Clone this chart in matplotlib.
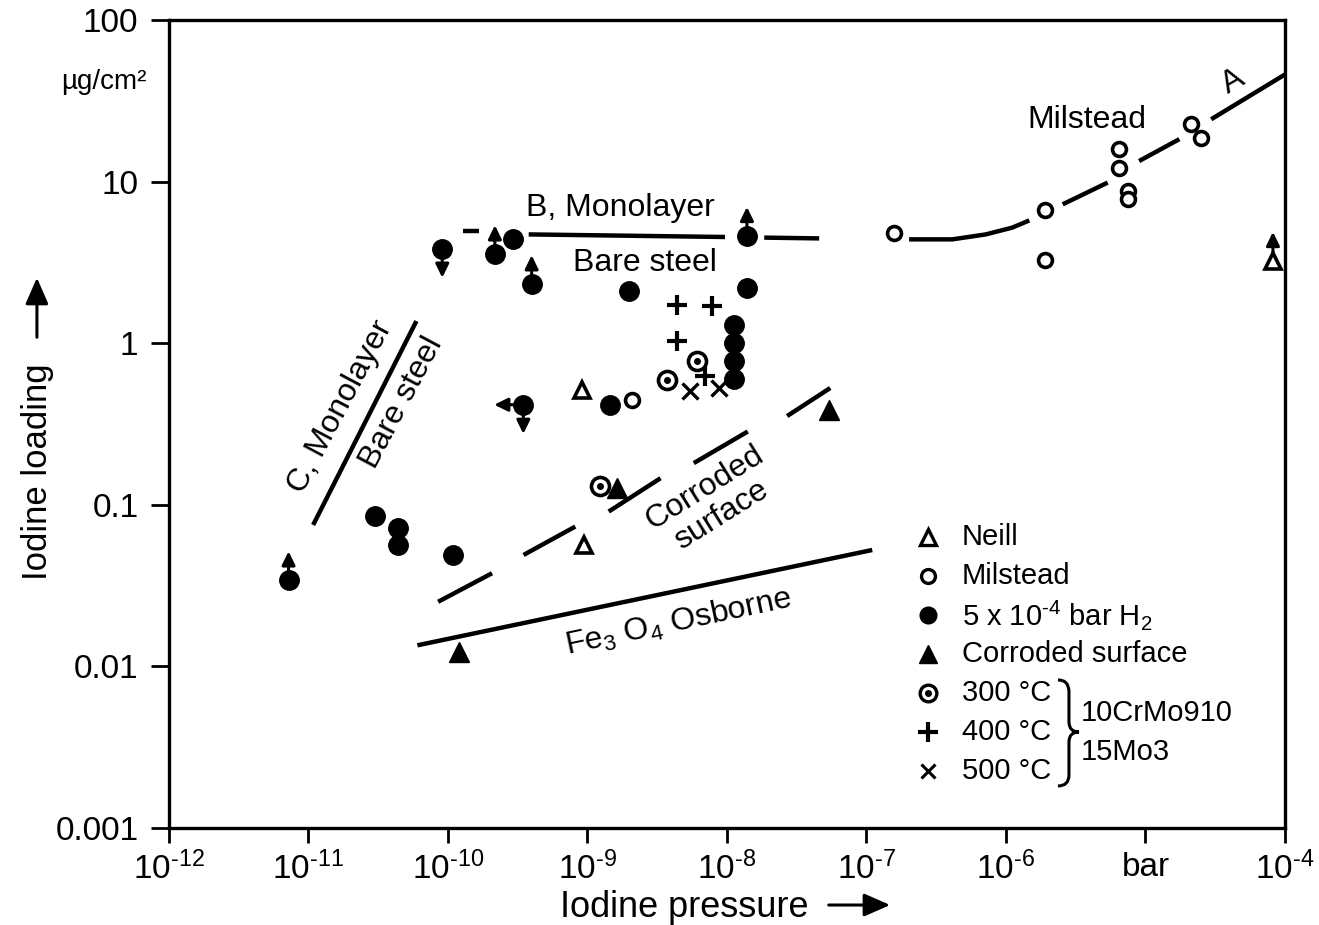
import numpy as np
import matplotlib
matplotlib.use('Agg')
import matplotlib.pyplot as plt
from matplotlib.path import Path
from matplotlib.patches import PathPatch, FancyArrowPatch

plt.rcParams['font.family'] = ['Liberation Sans', 'DejaVu Sans']
plt.rcParams['mathtext.fontset'] = 'custom'
plt.rcParams['mathtext.rm'] = 'Liberation Sans'
plt.rcParams['mathtext.it'] = 'Liberation Sans:italic'
plt.rcParams['mathtext.bf'] = 'Liberation Sans:bold'

# Iodine pressure (bar) and loading (ug/cm2) for each data set
h2_p = [7.2e-12, 3.0e-11, 4.4e-11, 4.4e-11, 1.08e-10, 9.1e-11, 2.17e-10, 2.94e-10,
        3.98e-10, 1.97e-9, 1.39e-8, 1.39e-8, 1.12e-8, 1.12e-8, 1.12e-8, 1.12e-8,
        1.45e-9, 3.47e-10]
h2_L = [0.034, 0.085, 0.072, 0.056, 0.049, 3.85, 3.54, 4.39,
        2.31, 2.10, 4.60, 2.20, 1.30, 1.00, 0.776, 0.601,
        0.416, 0.416]

milstead_p = [1.57e-7, 1.91e-6, 1.91e-6, 6.5e-6, 6.5e-6, 7.45e-6, 7.45e-6, 2.12e-5, 2.51e-5, 2.08e-9]
milstead_L = [4.83, 6.64, 3.25, 15.8, 12.2, 8.75, 7.76, 22.6, 18.7, 0.447]

neill_p = [9.1e-10, 9.4e-10, 8.2e-5]
neill_L = [0.515, 0.056, 3.22]

corr_p = [1.2e-10, 1.62e-9, 5.4e-8]
corr_L = [0.0123, 0.127, 0.385]

t300_p = [1.24e-9, 3.7e-9, 6.1e-9]
t300_L = [0.130, 0.594, 0.773]
t400_p = [4.38e-9, 7.8e-9, 4.38e-9, 6.95e-9]
t400_L = [1.73, 1.69, 1.03, 0.627]
t500_p = [5.45e-9, 8.7e-9]
t500_L = [0.504, 0.528]

# points that are only bounds: (pressure, loading, direction)
bounds = [(7.2e-12, 0.034, 'up'), (2.17e-10, 3.54, 'up'), (3.98e-10, 2.31, 'up'),
          (1.39e-8, 4.60, 'up'), (9.1e-11, 3.85, 'down'), (3.47e-10, 0.416, 'down'),
          (3.47e-10, 0.416, 'left'), (8.2e-5, 3.22, 'up')]

# curve A (Milstead), broken where the symbols sit
lineA = [([2.02e-7, 4.13e-7, 7.16e-7, 1.11e-6, 1.47e-6], [4.39, 4.39, 4.71, 5.19, 5.75]),
         ([2.55e-6, 5.36e-6], [7.23, 9.86]),
         ([9.0e-6, 1.75e-5], [13.4, 18.3]),
         ([2.96e-5, 1.0e-4], [24.3, 46.0])]
# B, monolayer on bare steel
lineB = [([1.29e-10, 1.68e-10], [4.97, 4.97]),
         ([3.79e-10, 9.68e-9], [4.71, 4.54]),
         ([1.85e-8, 4.58e-8], [4.50, 4.45])]
# C, monolayer on bare steel
lineC_p = [1.08e-11, 5.94e-11]
lineC_L = [0.075, 1.37]
# corroded surface (dashed)
lineCorr = [([8.5e-11, 2.07e-10], [0.0251, 0.0377]),
            ([3.48e-10, 8.18e-10], [0.0489, 0.0733]),
            ([1.42e-9, 3.34e-9], [0.0908, 0.146]),
            ([5.78e-9, 1.41e-8], [0.181, 0.284]),
            ([2.7e-8, 5.5e-8], [0.354, 0.528])]
# Fe3O4, Osborne
lineFe_p = [6.04e-11, 1.1e-7]
lineFe_L = [0.0135, 0.0525]

xticks = [1e-12, 1e-11, 1e-10, 1e-9, 1e-8, 1e-7, 1e-6, 1e-5, 1e-4]
xticklabels = ['$10^{\u201012}$', '$10^{\u201011}$', '$10^{\u201010}$', '$10^{\u20109}$',
               '$10^{\u20108}$', '$10^{\u20107}$', '$10^{\u20106}$', 'bar', '$10^{\u20104}$']
yticks = [1e-3, 1e-2, 1e-1, 1, 10, 100]
yticklabels = ['0.001', '0.01', '0.1', '1', '10', '100']

fig = plt.figure(figsize=(13.19, 9.25), dpi=100)
ax = fig.add_axes([0.1281, 0.1049, 0.8461, 0.8735])
ax.set_xscale('log')
ax.set_yscale('log')
ax.set_xlim(1e-12, 1e-4)
ax.set_ylim(1e-3, 100)

lw = 3.2
for p, L in lineA + lineB + lineCorr:
    ax.plot(p, L, 'k-', lw=lw, solid_capstyle='butt')
ax.plot(lineC_p, lineC_L, 'k-', lw=lw, solid_capstyle='butt')
ax.plot(lineFe_p, lineFe_L, 'k-', lw=lw, solid_capstyle='butt')

# Symbols
ax.plot(h2_p, h2_L, 'o', color='k', ms=14, ls='none')
ax.plot(milstead_p, milstead_L, 'o', mfc='white', mec='k', mew=2.6, ms=10, ls='none')
ax.plot(neill_p, neill_L, '^', mfc='white', mec='k', mew=2.6, ms=12, ls='none')
ax.plot(corr_p, corr_L, '^', color='k', ms=15, ls='none')
ax.plot(t300_p, t300_L, 'o', mfc='white', mec='k', mew=2.6, ms=13, ls='none')
ax.plot(t300_p, t300_L, 'o', color='k', ms=4, ls='none')
ax.plot(t400_p, t400_L, '+', color='k', mew=3, ms=15, ls='none')
ax.plot(t500_p, t500_L, 'x', color='k', mew=2.4, ms=11, ls='none')

# Arrows marking lower / upper bounds
offs = {'up': (0, 21), 'down': (0, -21), 'left': (-21, 0)}
for p, L, d in bounds:
    ax.annotate('', xy=(p, L), xytext=offs[d], textcoords='offset points',
                arrowprops=dict(arrowstyle='<|-,head_width=0.22,head_length=0.45',
                                color='k', lw=2.2, shrinkA=0, shrinkB=6,
                                mutation_scale=18))

# Line labels
fs = 23
ax.text(1.71e-9, 6.87, 'B, Monolayer', fontsize=fs, ha='center', va='center')
ax.text(2.58e-9, 3.13, 'Bare steel', fontsize=fs, ha='center', va='center')
ax.text(1.71e-11, 0.403, 'C, Monolayer', fontsize=fs, ha='center', va='center',
        rotation=62, rotation_mode='anchor')
ax.text(4.68e-11, 0.427, 'Bare steel', fontsize=fs, ha='center', va='center',
        rotation=62, rotation_mode='anchor')
ax.text(6.95e-9, 0.127, 'Corroded', fontsize=fs, ha='center', va='center',
        rotation=32, rotation_mode='anchor')
ax.text(9.2e-9, 0.0865, 'surface', fontsize=fs, ha='center', va='center',
        rotation=32, rotation_mode='anchor')
ax.text(4.46e-9, 0.0188, 'Fe$_3$ O$_4$ Osborne', fontsize=fs, ha='center', va='center',
        rotation=12, rotation_mode='anchor')
ax.text(3.81e-6, 24.0, 'Milstead', fontsize=fs, ha='center', va='center')
ax.text(4.24e-5, 41.3, 'A', fontsize=fs, ha='center', va='center',
        rotation=30, rotation_mode='anchor')


def px(x, y):
    # pixel position inside the frame -> axes fraction
    return ((x - 169) / 1116.0, (828 - y) / 808.0)


# Legend
legend_rows = [
    ('Neill', dict(marker='^', mfc='white', mec='k', mew=2.4, ms=11)),
    ('Milstead', dict(marker='o', mfc='white', mec='k', mew=2.4, ms=10)),
    ('5 x 10$^{\u20104}$ bar H$_2$', dict(marker='o', color='k', ms=12)),
    ('Corroded surface', dict(marker='^', color='k', ms=13)),
    ('300 °C', dict(marker='o', mfc='white', mec='k', mew=2.4, ms=12)),
    ('400 °C', dict(marker='+', color='k', mew=3, ms=14)),
    ('500 °C', dict(marker='x', color='k', mew=2.2, ms=10)),
]
lfs = 21
for i, (label, style) in enumerate(legend_rows):
    yrow = 537 + 39 * i
    ax.plot(*px(928, yrow), transform=ax.transAxes, ls='none', clip_on=False, **style)
    if label == '300 °C':
        ax.plot(*px(928, yrow), 'o', color='k', ms=4, transform=ax.transAxes)
    ax.text(*px(962, yrow), label, fontsize=lfs, ha='left', va='center',
            transform=ax.transAxes)

# Brace grouping the steel temperatures
brace_px = [(1058, 680), (1069, 680), (1069, 692), (1069, 722), (1069, 732), (1079, 732),
            (1069, 732), (1069, 742), (1069, 775), (1069, 786), (1058, 786)]
codes = [Path.MOVETO, Path.CURVE3, Path.CURVE3, Path.LINETO, Path.CURVE3, Path.CURVE3,
         Path.CURVE3, Path.CURVE3, Path.LINETO, Path.CURVE3, Path.CURVE3]
brace = Path([px(x, y) for x, y in brace_px], codes)
ax.add_patch(PathPatch(brace, fc='none', ec='k', lw=2.2, transform=ax.transAxes))
ax.text(*px(1081, 713), '10CrMo910', fontsize=lfs, ha='left', va='center',
        transform=ax.transAxes)
ax.text(*px(1081, 752), '15Mo3', fontsize=lfs, ha='left', va='center',
        transform=ax.transAxes)

# Axes styling
ax.set_xticks(xticks)
ax.set_xticklabels(xticklabels)
ax.set_yticks(yticks)
ax.set_yticklabels(yticklabels)
ax.minorticks_off()
ax.tick_params(axis='x', direction='out', length=11, width=2, labelsize=24, pad=6)
ax.tick_params(axis='y', direction='out', length=13, width=2, labelsize=24, pad=9)
for s in ax.spines.values():
    s.set_linewidth(2.4)

fig.text(0.0788, 0.9114, 'µg/cm²', fontsize=20, ha='center', va='center')
fig.text(0.0288, 0.4897, 'Iodine loading', fontsize=25, rotation=90,
         ha='center', va='center')
fig.text(0.5186, 0.0086, 'Iodine pressure', fontsize=26, ha='center', va='baseline')
fig.add_artist(FancyArrowPatch(
    (0.028, 0.6324), (0.028, 0.7027), transform=fig.transFigure,
    arrowstyle='-|>,head_width=0.35,head_length=0.8', color='k', lw=2.2,
    mutation_scale=20))
fig.add_artist(FancyArrowPatch(
    (0.6262, 0.0216), (0.677, 0.0216), transform=fig.transFigure,
    arrowstyle='-|>,head_width=0.35,head_length=0.8', color='k', lw=2.2,
    mutation_scale=20))

plt.savefig('out.png', dpi=100)
plt.close()
